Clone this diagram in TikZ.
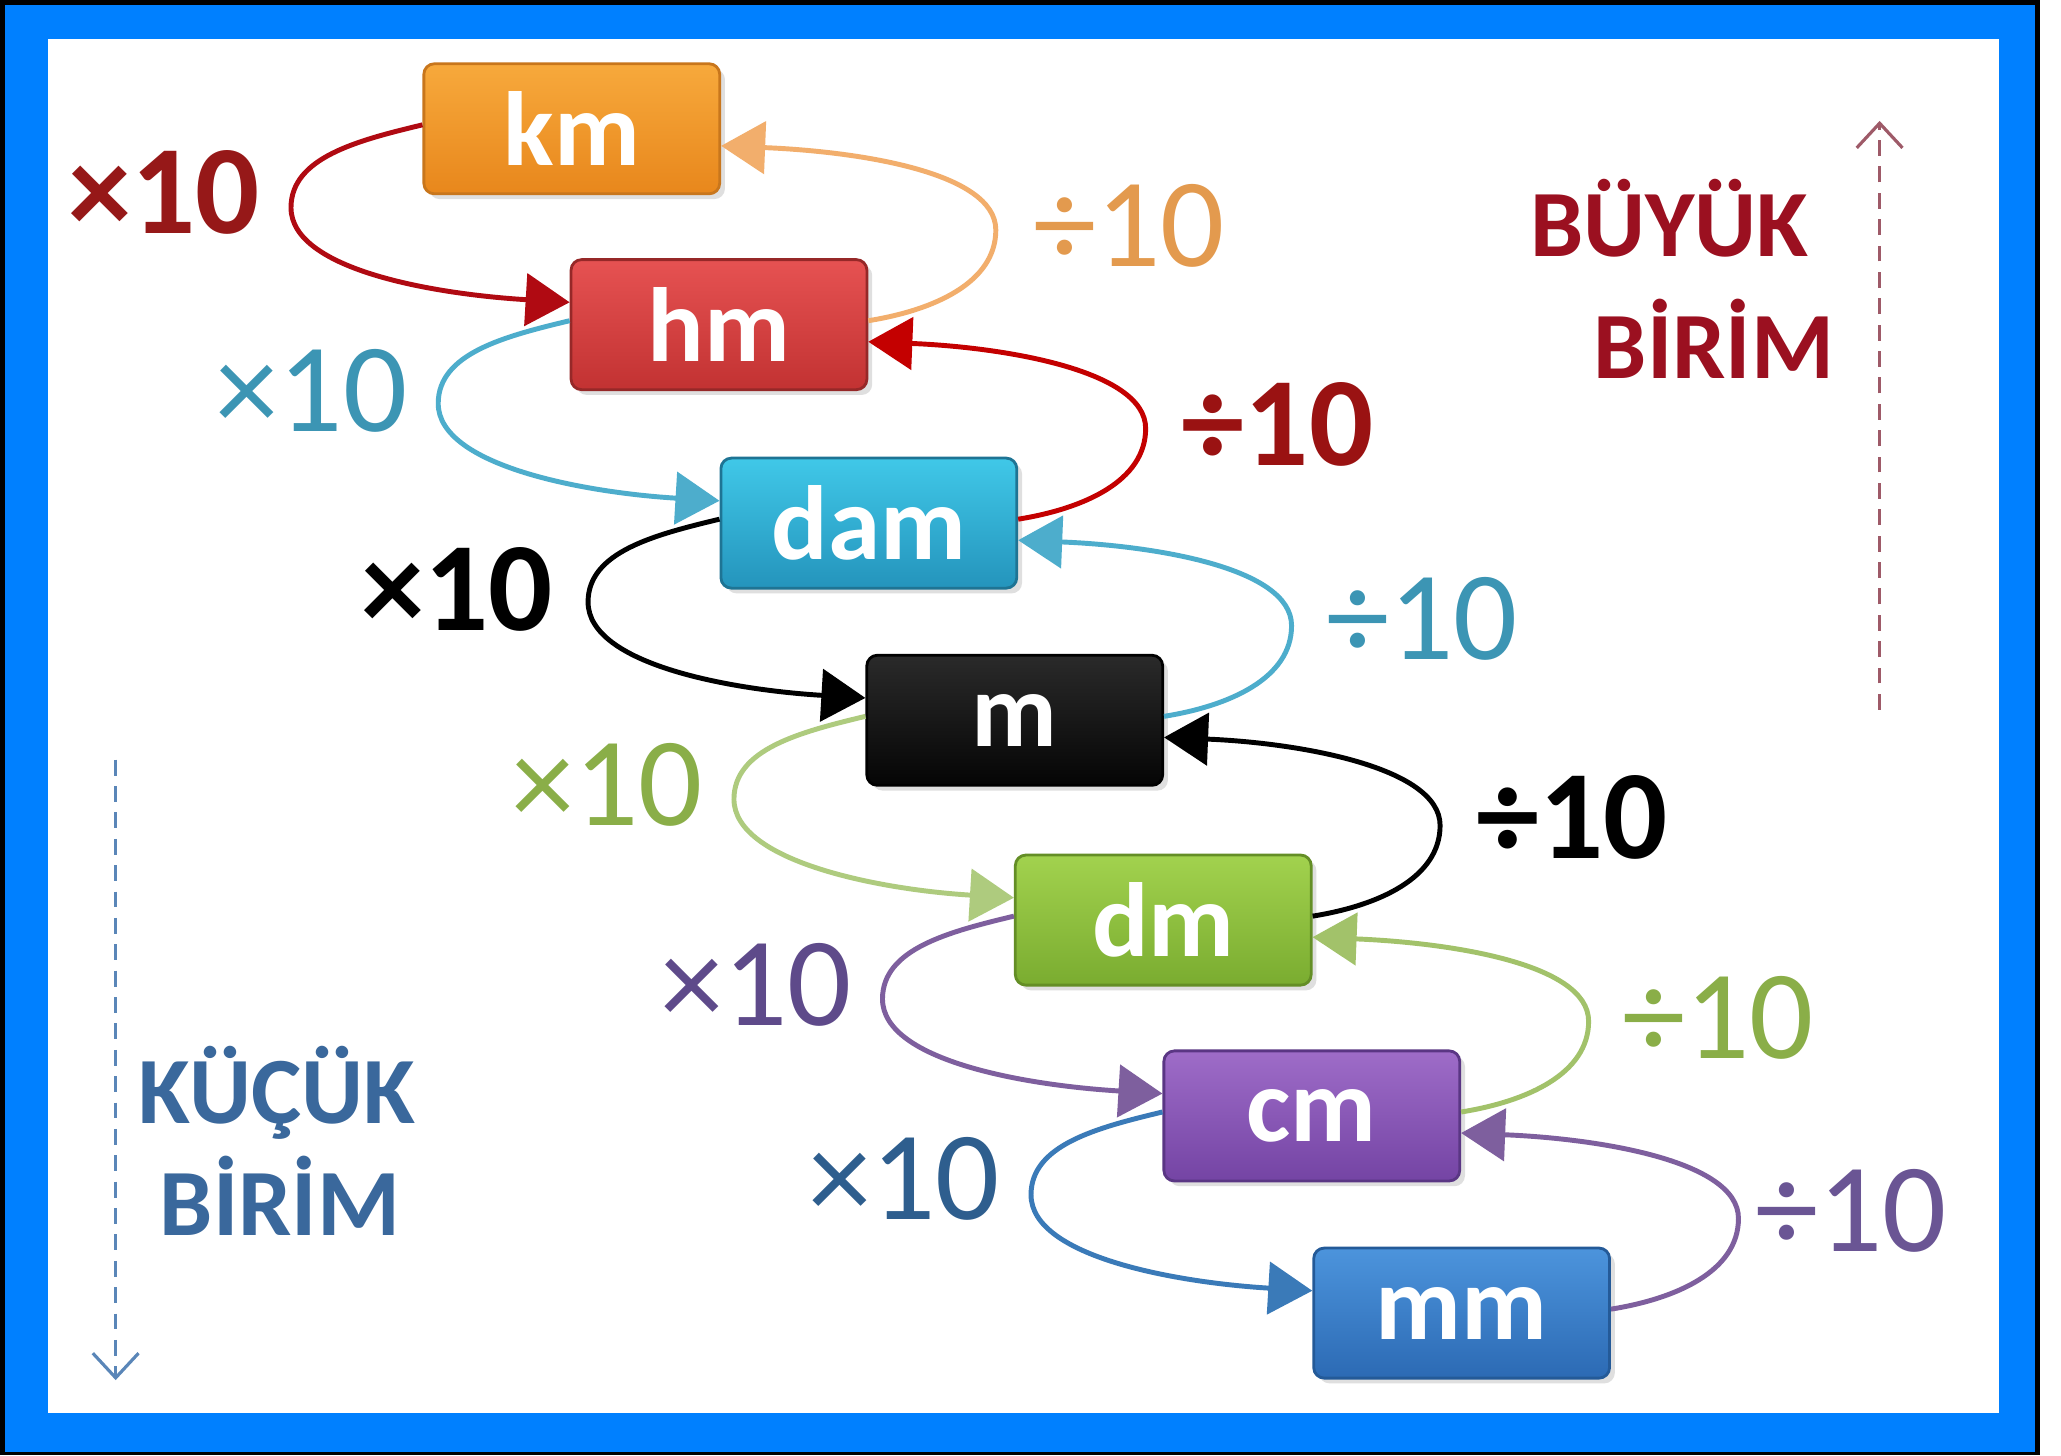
\documentclass[tikz,border=0pt]{standalone}
\usepackage{fontspec}
\setmainfont{Carlito}
\usetikzlibrary{arrows.meta,calc,shadows}

\definecolor{frameblue}{HTML}{0080FF}
\definecolor{kmT}{HTML}{F7A93C}\definecolor{kmB}{HTML}{E8871C}\definecolor{kmD}{HTML}{C8761C}
\definecolor{hmT}{HTML}{E65252}\definecolor{hmB}{HTML}{C23232}\definecolor{hmD}{HTML}{962828}
\definecolor{damT}{HTML}{40C8E8}\definecolor{damB}{HTML}{2494BC}\definecolor{damD}{HTML}{1E7494}
\definecolor{mT}{HTML}{2A2A2A}\definecolor{mB}{HTML}{050505}\definecolor{mD}{HTML}{000000}
\definecolor{dmT}{HTML}{A2D24E}\definecolor{dmB}{HTML}{7AAC30}\definecolor{dmD}{HTML}{648E26}
\definecolor{cmT}{HTML}{9E6CC8}\definecolor{cmB}{HTML}{7444A4}\definecolor{cmD}{HTML}{5A3684}
\definecolor{mmT}{HTML}{4C94DC}\definecolor{mmB}{HTML}{2C6AB4}\definecolor{mmD}{HTML}{245A98}

\definecolor{lnRed}{HTML}{B00A12}
\definecolor{lnOrange}{HTML}{F2AE6C}
\definecolor{lnTeal}{HTML}{4DADCC}
\definecolor{lnDRed}{HTML}{C40000}
\definecolor{lnGreen}{HTML}{AECB7E}
\definecolor{lnGreenB}{HTML}{A2C26A}
\definecolor{lnPurple}{HTML}{7E5F9E}
\definecolor{lnBlue}{HTML}{3A7AB8}

\definecolor{tRed}{HTML}{961818}
\definecolor{tOrange}{HTML}{E39A4E}
\definecolor{tTeal}{HTML}{3C95B4}
\definecolor{tDRed}{HTML}{9A1212}
\definecolor{tGreen}{HTML}{8AAE48}
\definecolor{tPurple}{HTML}{5E4A8A}
\definecolor{tPurpleB}{HTML}{6A5594}
\definecolor{tBlue}{HTML}{2E5E8E}

\definecolor{bigRed}{HTML}{9B1020}
\definecolor{smallBlue}{HTML}{3A689C}
\definecolor{upArrow}{HTML}{9E5A68}
\definecolor{downArrow}{HTML}{5A86B8}

\newcommand\xloop[3]{\draw[conn,#3] ($(#1.west)+(0,-3)$) .. controls +(-50,12) and +(0,-38) .. ($(#1.west)+(-100,60)$) .. controls +(0,48) and +(-100,-6) .. ($(#2.west)+(0,-17)$);}
\newcommand\dloop[3]{\draw[conn,#3] ($(#1.east)+(0,-3)$) .. controls +(50,-8) and +(0,40) .. ($(#1.east)+(97,-72)$) .. controls +(0,-45) and +(100,4) .. ($(#2.east)+(0,13)$);}

\begin{document}
\begin{tikzpicture}[x=0.013144cm,y=-0.013144cm,
  box/.style={rounded corners=3pt, minimum width=2.957cm, minimum height=1.30cm, inner sep=0pt,
    font=\fontsize{30}{32}\selectfont\bfseries, text=white, line width=0.8pt,
    drop shadow={shadow xshift=1.5pt, shadow yshift=-1.5pt, opacity=0.25}},
  lbl/.style={font=\fontsize{36}{40}\selectfont, inner sep=0pt, anchor=base},
  lblb/.style={font=\fontsize{36}{40}\selectfont\bfseries, inner sep=0pt, anchor=base},
  side/.style={font=\fontsize{27}{30}\selectfont\bfseries, inner sep=0pt, anchor=base},
  conn/.style={line width=1.4pt, -{Triangle[length=0.44cm,width=0.52cm]}},
  guide/.style={line width=0.9pt, dash pattern=on 4.5pt off 3pt, -{Straight Barb[length=7pt,width=13pt]}}
]
\useasboundingbox (0,0) rectangle (1568,1107);
\fill[white] (0,0) rectangle (1568,1107);
\fill[black] (0,0) rectangle (1552,1107);
\fill[frameblue] (3.8,3.8) rectangle (1548,1104.5);
\fill[white] (36.5,29.7) rectangle (1521,1075);

% boxes
\node[box, draw=kmD, top color=kmT, bottom color=kmB] (km) at (435,98) {km};
\node[box, draw=hmD, top color=hmT, bottom color=hmB] (hm) at (547,247) {hm};
\node[box, draw=damD, top color=damT, bottom color=damB] (dam) at (661,398) {dam};
\node[box, draw=mD, top color=mT, bottom color=mB] (m) at (772,548) {m};
\node[box, draw=dmD, top color=dmT, bottom color=dmB] (dm) at (885,700) {dm};
\node[box, draw=cmD, top color=cmT, bottom color=cmB] (cm) at (998,849) {cm};
\node[box, draw=mmD, top color=mmT, bottom color=mmB] (mm) at (1112,999) {mm};

% multiply loops (left)
\xloop{km}{hm}{lnRed}
\xloop{hm}{dam}{lnTeal}
\xloop{dam}{m}{black}
\xloop{m}{dm}{lnGreen}
\xloop{dm}{cm}{lnPurple}
\xloop{cm}{mm}{lnBlue}

% divide loops (right)
\dloop{hm}{km}{lnOrange}
\dloop{dam}{hm}{lnDRed}
\dloop{m}{dam}{lnTeal}
\dloop{dm}{m}{black}
\dloop{cm}{dm}{lnGreenB}
\dloop{mm}{cm}{lnPurple}

% labels
\node[lblb, text=tRed] (x1) at (125,178) {×10};
\node[lbl, text=tOrange] (d1) at (859,203) {÷10};
\node[lbl, text=tTeal] (x2) at (237,328) {×10};
\node[lblb, text=tDRed] (d2) at (972,354) {÷10};
\node[lblb, text=black] (x3) at (348,480) {×10};
\node[lbl, text=tTeal] (d3) at (1082,502) {÷10};
\node[lbl, text=tGreen] (x4) at (462,628) {×10};
\node[lblb, text=black] (d4) at (1196,653) {÷10};
\node[lbl, text=tPurple] (x5) at (575,780) {×10};
\node[lbl, text=tGreen] (d5) at (1307,805) {÷10};
\node[lbl, text=tBlue] (x6) at (688,928) {×10};
\node[lbl, text=tPurpleB] (d6) at (1408,952) {÷10};

% side texts
\node[side, text=bigRed] (b1) at (1270,195) {BÜYÜK};
\node[side, text=bigRed] (b2) at (1304,288) {BİRİM};
\node[side, text=smallBlue] (k1) at (211,855) {KÜÇÜK};
\node[side, text=smallBlue] (k2) at (213,940) {BİRİM};

% guide arrows
\coordinate (upS) at (1430,540);
\coordinate (upE) at (1430,92);
\coordinate (dnS) at (88,578);
\coordinate (dnE) at (88,1050);
\draw[guide, upArrow] (upS) -- (upE);
\draw[guide, downArrow] (dnS) -- (dnE);
\end{tikzpicture}
\end{document}
